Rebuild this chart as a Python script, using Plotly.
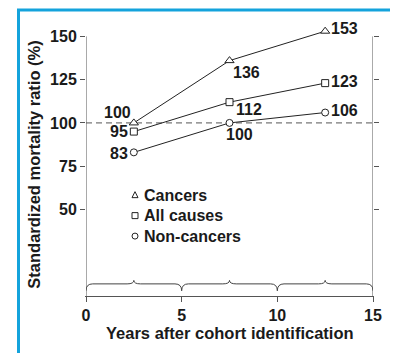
import plotly.graph_objects as go

# ---- data ----
years = [2.5, 7.5, 12.5]
series_names = ["Cancers", "All causes", "Non-cancers"]
cancers = [100, 136, 153]
all_causes = [95, 112, 123]
non_cancers = [83, 100, 106]
x_ticks = [0, 5, 10, 15]
y_ticks = [50, 75, 100, 125, 150]
periods = [(0, 5), (5, 10), (10, 15)]
reference_smr = 100
x_title = "Years after cohort identification"
y_title = "Standardized mortality ratio (%)"

# ---- geometry / style (design coordinates = screenshot pixels) ----
PAGE_OFF = 8                      # default body margin of the html page
WIN_W, WIN_H = 398, 353
W, H = WIN_W - PAGE_OFF, WIN_H - PAGE_OFF
X_LEFT, X_RIGHT = 86, 373         # plot area in screenshot px
Y_AXIS = 296                      # x-axis line in screenshot px
S = 1.7333                        # px per y unit
Y_TOP = 156
Y_PLOT_TOP = Y_AXIS - Y_TOP * S
L = X_LEFT - PAGE_OFF
R = WIN_W - X_RIGHT
T = Y_PLOT_TOP - PAGE_OFF
B = WIN_H - Y_AXIS
PW = X_RIGHT - X_LEFT
PH = Y_AXIS - Y_PLOT_TOP
FONT = "Liberation Sans, Arial, sans-serif"
TXT = "#1a1a1a"
AX = "#555555"
BLUE = "#14a3dc"


def px_x(px):
    return (px - X_LEFT) / PW


def px_y(py):
    return (Y_AXIS - py) / PH


symbols = ["triangle-up", "square", "circle"]
msizes = [8, 7, 7]
values = [cancers, all_causes, non_cancers]
# (xanchor, xshift, yshift) per point
label_style = [
    [("right", -2, 10), ("left", 2, -12), ("left", 5, 3)],
    [("right", -5, 0), ("left", 5, -7), ("left", 5, 2)],
    [("right", -5, -1), ("center", 10, -12), ("left", 5, 2)],
]

fig = go.Figure()
for name, vals, sym, ms in zip(series_names, values, symbols, msizes):
    fig.add_trace(go.Scatter(
        x=years, y=vals, name=name, mode="lines+markers",
        line=dict(color="#222222", width=1),
        marker=dict(symbol=sym, size=ms, color="white",
                    line=dict(color="#222222", width=1)),
        cliponaxis=False, showlegend=False, hoverinfo="skip"))

annotations = []
for vals, styles in zip(values, label_style):
    for xv, yv, (xa, xs, ys) in zip(years, vals, styles):
        annotations.append(dict(
            x=xv, y=yv, xref="x", yref="y", text=str(yv), showarrow=False,
            xanchor=xa, yanchor="middle", xshift=xs, yshift=ys,
            borderpad=0, font=dict(family=FONT, size=16, color=TXT, weight=700)))

# legend (text + symbols)
leg_rows = [195, 215.5, 236]
for name, py in zip(series_names, leg_rows):
    annotations.append(dict(
        x=px_x(143), y=px_y(py), xref="paper", yref="paper", text=name,
        showarrow=False, xanchor="left", yanchor="middle", borderpad=0,
        font=dict(family=FONT, size=16, color=TXT, weight=700)))

# axis titles
annotations.append(dict(
    x=0.5, y=px_y(333), xref="paper", yref="paper",
    text=x_title, showarrow=False, xanchor="center", yanchor="middle",
    borderpad=0, font=dict(family=FONT, size=16.5, color=TXT, weight=700)))
annotations.append(dict(
    x=px_x(34.5), y=px_y(165), xref="paper", yref="paper",
    text=y_title, showarrow=False, textangle=-90, xanchor="center",
    yanchor="middle", font=dict(family=FONT, size=16.5, color=TXT, weight=700)))

shapes = []
# blue frame
shapes.append(dict(type="rect", xref="paper", yref="paper",
                   x0=px_x(18.5), x1=px_x(393.5), y0=px_y(360), y1=px_y(9.5),
                   line=dict(color=BLUE, width=3), fillcolor="rgba(0,0,0,0)"))
# vertical axis lines (0..150)
for xv in (x_ticks[0], x_ticks[-1]):
    shapes.append(dict(type="line", xref="x", yref="y", x0=xv, x1=xv,
                       y0=0, y1=y_ticks[-1], line=dict(color=AX, width=1)))
# reference line
shapes.append(dict(type="line", xref="x", yref="y", x0=x_ticks[0], x1=x_ticks[-1],
                   y0=reference_smr, y1=reference_smr, layer="below",
                   line=dict(color=AX, width=1, dash="6px,4px")))
# braces
yb, yp, ye, d = 7.0, 9.0, 3.0, 0.35
for a, b in periods:
    m = (a + b) / 2
    path = (f"M{a},{ye} Q{a},{yb} {a+d},{yb} L{m-d},{yb} Q{m},{yb} {m},{yp} "
            f"Q{m},{yb} {m+d},{yb} L{b-d},{yb} Q{b},{yb} {b},{ye}")
    shapes.append(dict(type="path", xref="x", yref="y", path=path,
                       line=dict(color="#444444", width=1)))
# legend symbols
lx = px_x(135)
shapes.append(dict(type="path", xref="paper", yref="paper", xsizemode="pixel",
                   ysizemode="pixel", xanchor=lx, yanchor=px_y(leg_rows[0]),
                   path="M-3,-2.5 L3,-2.5 L0,3.5 Z",
                   line=dict(color="#222222", width=1), fillcolor="white"))
shapes.append(dict(type="rect", xref="paper", yref="paper", xsizemode="pixel",
                   ysizemode="pixel", xanchor=lx, yanchor=px_y(leg_rows[1]),
                   x0=-3, x1=3, y0=-3, y1=3,
                   line=dict(color="#222222", width=1), fillcolor="white"))
shapes.append(dict(type="circle", xref="paper", yref="paper", xsizemode="pixel",
                   ysizemode="pixel", xanchor=lx, yanchor=px_y(leg_rows[2]),
                   x0=-3, x1=3, y0=-3, y1=3,
                   line=dict(color="#222222", width=1), fillcolor="white"))

tickfont = dict(family=FONT, size=16, color=TXT, weight=700)
fig.update_layout(
    width=W, height=H,
    margin=dict(l=L, r=R, t=T, b=B, pad=0),
    paper_bgcolor="white", plot_bgcolor="white",
    showlegend=False,
    xaxis=dict(range=[x_ticks[0], x_ticks[-1]], tickvals=x_ticks,
               showline=True, linecolor=AX, linewidth=1, ticks="outside",
               ticklen=5, tickcolor=AX, showgrid=False, zeroline=False,
               tickfont=tickfont, fixedrange=True),
    yaxis=dict(range=[0, Y_TOP], tickvals=y_ticks, showline=True,
               linecolor="rgba(0,0,0,0)", mirror="ticks", ticks="outside",
               ticklen=5, tickcolor=AX, showgrid=False, zeroline=False,
               tickfont=tickfont, fixedrange=True),
    annotations=annotations, shapes=shapes,
)
fig.write_html("out.html", config={"displayModeBar": False})
